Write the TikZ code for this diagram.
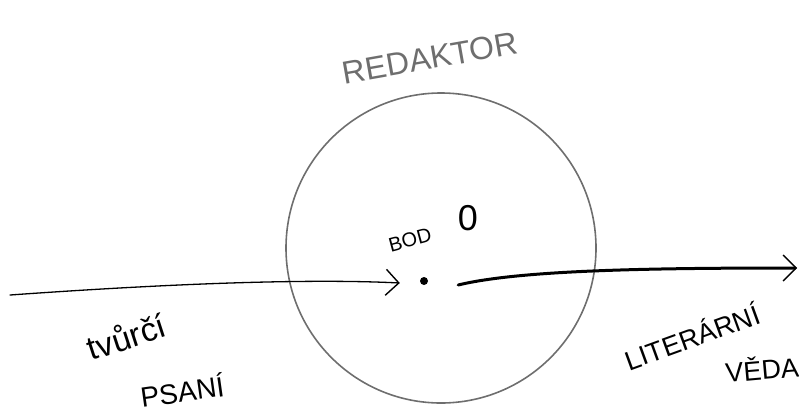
\documentclass[tikz,border=0pt]{standalone}
\usepackage{fontspec}
\setmainfont{Liberation Sans}
\usetikzlibrary{arrows.meta}
\definecolor{pencil}{RGB}{110,110,110}
\tikzset{
  hand/.style={font=\fontsize{28}{30}\selectfont, inner sep=0pt},
  sketch/.style={line width=1.3pt, line cap=round},
  openhead/.style={-{Straight Barb[length=13pt,width=26pt,line width=1.4pt]}}
}
\begin{document}
\begin{tikzpicture}[x=1pt,y=-1pt]
\useasboundingbox (0,0) rectangle (799,413);
% circle (editor)
\node[draw=pencil, line width=1.6pt, circle, minimum size=310pt, inner sep=0pt] (circ) at (441,248) {};
% point 0
\node[fill=black, circle, minimum size=8pt, inner sep=0pt] (dot) at (424,281) {};
\coordinate (lstart) at (10,295);
\coordinate (rend) at (797,268);
\draw[sketch, openhead] (lstart) .. controls (150,285) and (300,278) .. ([xshift=-20pt,yshift=-2pt]dot.west);
\draw[line width=3pt, line cap=round, openhead] ([xshift=30pt,yshift=-4pt]dot.east) .. controls (520,270) and (650,268) .. (rend);
% labels
\node[hand, text=pencil, font=\fontsize{32}{34}\selectfont, rotate=10] (red) at (430,58) {REDAKTOR};
\node[hand, font=\fontsize{20}{22}\selectfont, rotate=15] (bod) at (410,240) {BOD};
\node[hand, font=\fontsize{36}{38}\selectfont] (zero) at (468,218) {0};
\node[hand, font=\fontsize{33}{35}\selectfont, rotate=18] (tvurci) at (126,336) {tvůrčí};
\node[hand, rotate=8] (psani) at (182,390) {PSANÍ};
\node[hand, font=\fontsize{27}{29}\selectfont, rotate=20] (lit) at (692,336) {LITERÁRNÍ};
\node[hand, font=\fontsize{27}{29}\selectfont, rotate=5] (veda) at (762,368) {VĚDA};
\end{tikzpicture}
\end{document}
